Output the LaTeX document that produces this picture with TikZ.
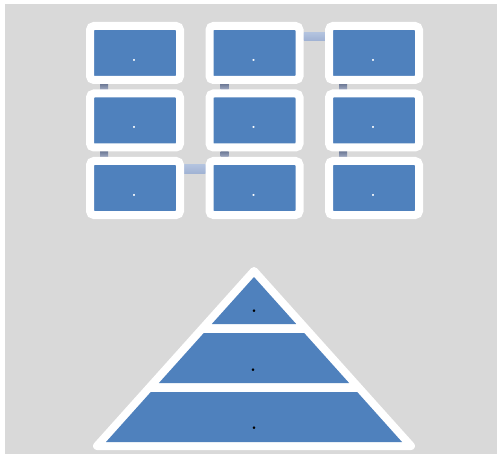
\documentclass[tikz,border=0pt]{standalone}
\usetikzlibrary{backgrounds}
\definecolor{bgray}{HTML}{D9D9D9}
\definecolor{sblue}{HTML}{4F81BD}
\definecolor{vtop}{HTML}{6F7B97}
\definecolor{vbot}{HTML}{A0AAC2}
\definecolor{htop}{HTML}{B2C2DE}
\definecolor{hbot}{HTML}{9FB1D3}
\tikzset{
  cell/.style={draw=white, line width=8pt, fill=sblue, rounded corners=4pt,
    minimum width=90pt, minimum height=54pt, inner sep=0pt},
  wdot/.style={text=white, font=\fontsize{26}{26}\selectfont, inner sep=0pt},
  bdot/.style={text=black, font=\fontsize{32}{32}\selectfont, inner sep=0pt},
  vconn/.style={top color=vtop, bottom color=vbot},
  hconn/.style={top color=htop, bottom color=hbot},
  band/.style={fill=sblue},
}
\begin{document}
\begin{tikzpicture}[x=1pt,y=-1pt]
\useasboundingbox (0,0) rectangle (497,454);
% boxes
\foreach \c/\x in {1/135,2/254.5,3/374}{
  \foreach \r/\y in {1/53,2/120.5,3/188}{
    \node[cell] (b\r\c) at (\x,\y) {};
    \node[wdot, anchor=base] (d\r\c) at (\x-1,\y+8.5) {.};
  }
}
\begin{scope}[on background layer]
  \fill[bgray] (5,4) rectangle (497,454);
  % vertical connectors
  \foreach \c/\s in {1/14,2/15,3/14}{
    \shade[vconn] ([xshift=\s pt]b1\c.south west) rectangle ([xshift=\s pt+8pt]b2\c.north west);
    \shade[vconn] ([xshift=\s pt]b2\c.south west) rectangle ([xshift=\s pt+8pt]b3\c.north west);
  }
  % horizontal connectors
  \shade[hconn] ([yshift=-11pt]b12.north east) rectangle ([yshift=-19pt]b13.north west);
  \shade[hconn] ([yshift=-8pt]b31.north east) rectangle ([yshift=-17pt]b32.north west);
\end{scope}
% pyramid
\fill[white, draw=white, line width=8pt, line join=round]
  (254,271) -- (411,446) -- (97,446) -- cycle;
\fill[band] (254,277) -- (296.2,324) -- (211.8,324) -- cycle;
\fill[band] (203.8,333) -- (304.2,333) -- (349.1,383) -- (158.9,383) -- cycle;
\fill[band] (150.8,392) -- (357.2,392) -- (402,442) -- (106,442) -- cycle;
\node[bdot, anchor=base] (p1) at (254,312.5) {.};
\node[bdot, anchor=base] (p2) at (253,371.5) {.};
\node[bdot, anchor=base] (p3) at (254,429.5) {.};
\end{tikzpicture}
\end{document}
